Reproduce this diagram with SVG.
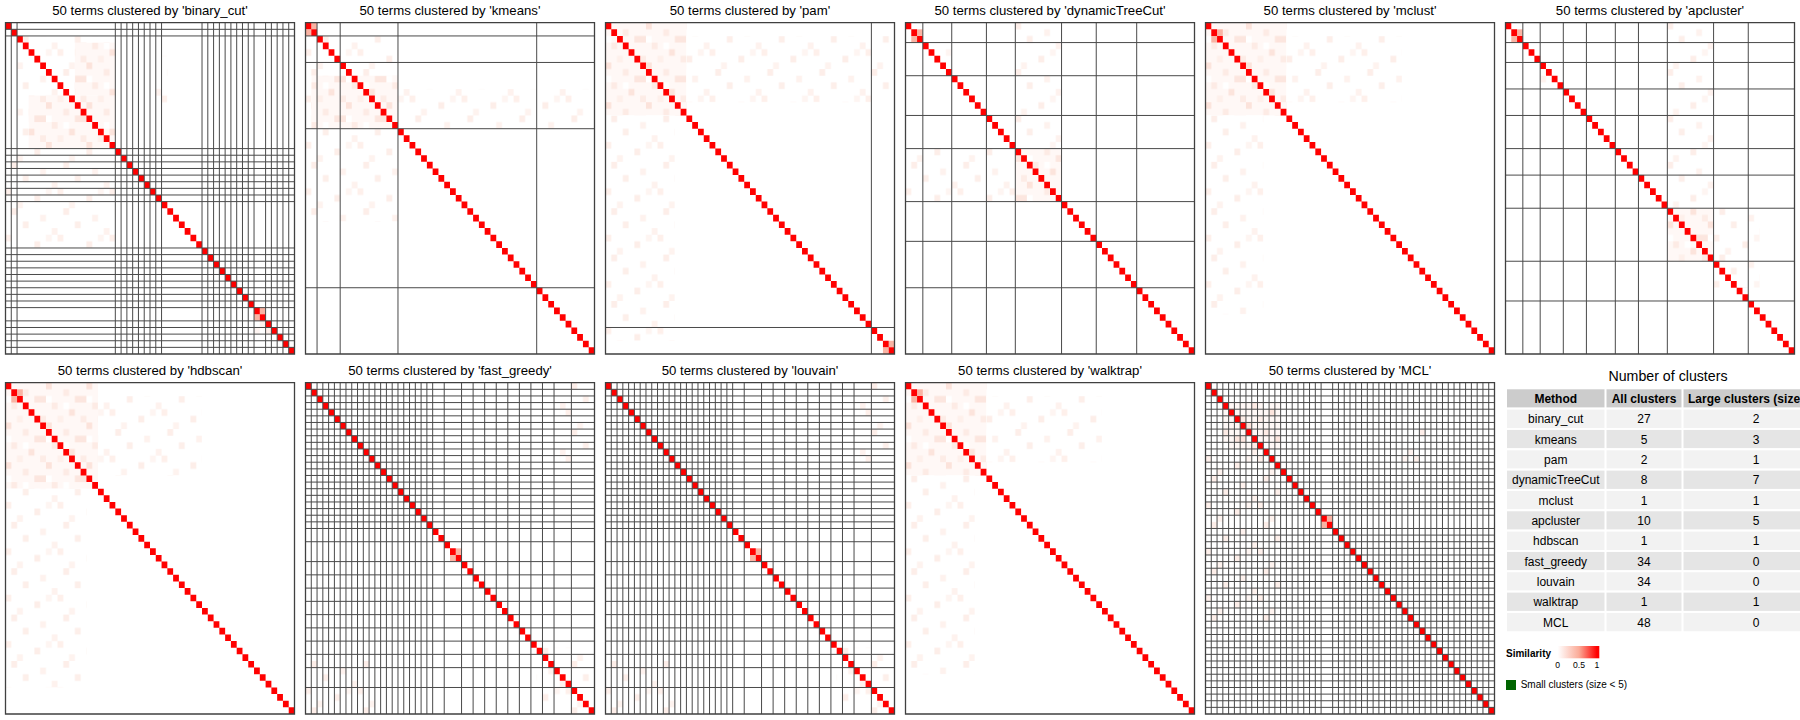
<svg xmlns="http://www.w3.org/2000/svg" xmlns:xlink="http://www.w3.org/1999/xlink" width="1800" height="720" viewBox="0 0 1800 720">
<style>
.t{font-family:"Liberation Sans",Arial,sans-serif;font-size:13.2px;text-anchor:middle;fill:#000}
.tb{font-family:"Liberation Sans",Arial,sans-serif;font-size:12px;text-anchor:middle;fill:#000}
.th{font-family:"Liberation Sans",Arial,sans-serif;font-size:12px;font-weight:bold;text-anchor:middle;fill:#000}
.dg{fill:#ff0000}
.ln{fill:none;stroke:#4a4a4a;stroke-width:1}
.bd{fill:none;stroke:#404040;stroke-width:1.3}
.pk{fill:#f9b3a3}
.f1{fill:url(#m1)}
.f2{fill:url(#m2)}
.hd{fill:#cccccc}
.ra{fill:#f2f2f2}
.rb{fill:#e5e5e5}
</style>
<defs>
<pattern id="m1" patternUnits="userSpaceOnUse" width="7" height="6">
<rect width="7" height="6" fill="#fff8f6"/>
<rect x="0" y="0" width="1" height="1" fill="#fce3db"/>
<rect x="3" y="1" width="1" height="1" fill="#fdebe5"/>
<rect x="5" y="2" width="2" height="1" fill="#fce6df"/>
<rect x="1" y="3" width="1" height="1" fill="#fdebe5"/>
<rect x="4" y="4" width="1" height="1" fill="#fce4dc"/>
<rect x="6" y="5" width="1" height="1" fill="#fdece6"/>
<rect x="2" y="5" width="1" height="1" fill="#fef0eb"/>
<rect x="0" y="2" width="1" height="1" fill="#ffffff"/>
<rect x="3" y="3" width="1" height="1" fill="#ffffff"/>
</pattern>
<pattern id="m2" patternUnits="userSpaceOnUse" width="9" height="7">
<rect width="9" height="7" fill="#ffffff"/>
<rect x="1" y="0" width="1" height="1" fill="#fdeee9"/>
<rect x="6" y="1" width="1" height="1" fill="#fef2ee"/>
<rect x="3" y="2" width="1" height="1" fill="#fdefea"/>
<rect x="8" y="3" width="1" height="1" fill="#fef2ee"/>
<rect x="0" y="4" width="1" height="1" fill="#fef0eb"/>
<rect x="5" y="5" width="1" height="1" fill="#fdeee9"/>
<rect x="2" y="6" width="1" height="1" fill="#fef3ef"/>
<rect x="7" y="4" width="1" height="1" fill="#fef5f2"/>
</pattern>
<path id="diag" class="dg" d="M0 0h1v1h-1z
m1 1h1v1h-1zm1 1h1v1h-1zm1 1h1v1h-1zm1 1h1v1h-1zm1 1h1v1h-1zm1 1h1v1h-1zm1 1h1v1h-1z
m1 1h1v1h-1zm1 1h1v1h-1zm1 1h1v1h-1zm1 1h1v1h-1zm1 1h1v1h-1zm1 1h1v1h-1zm1 1h1v1h-1z
m1 1h1v1h-1zm1 1h1v1h-1zm1 1h1v1h-1zm1 1h1v1h-1zm1 1h1v1h-1zm1 1h1v1h-1zm1 1h1v1h-1z
m1 1h1v1h-1zm1 1h1v1h-1zm1 1h1v1h-1zm1 1h1v1h-1zm1 1h1v1h-1zm1 1h1v1h-1zm1 1h1v1h-1z
m1 1h1v1h-1zm1 1h1v1h-1zm1 1h1v1h-1zm1 1h1v1h-1zm1 1h1v1h-1zm1 1h1v1h-1zm1 1h1v1h-1z
m1 1h1v1h-1zm1 1h1v1h-1zm1 1h1v1h-1zm1 1h1v1h-1zm1 1h1v1h-1zm1 1h1v1h-1zm1 1h1v1h-1z
m1 1h1v1h-1zm1 1h1v1h-1zm1 1h1v1h-1zm1 1h1v1h-1zm1 1h1v1h-1zm1 1h1v1h-1zm1 1h1v1h-1z"/>
<rect id="frame" class="bd" x="0" y="0" width="50" height="50" vector-effect="non-scaling-stroke"/>
<path id="fgl" class="ln" vector-effect="non-scaling-stroke" d="M1 0V50M0 1H50M2 0V50M0 2H50M3 0V50M0 3H50M4 0V50M0 4H50M5 0V50M0 5H50M6 0V50M0 6H50M7 0V50M0 7H50M8 0V50M0 8H50M9 0V50M0 9H50M10 0V50M0 10H50M11 0V50M0 11H50M12 0V50M0 12H50M13 0V50M0 13H50M14 0V50M0 14H50M15 0V50M0 15H50M16 0V50M0 16H50M17 0V50M0 17H50M18 0V50M0 18H50M19 0V50M0 19H50M20 0V50M0 20H50M21 0V50M0 21H50M22 0V50M0 22H50M24 0V50M0 24H50M27 0V50M0 27H50M29 0V50M0 29H50M31 0V50M0 31H50M33 0V50M0 33H50M35 0V50M0 35H50M37 0V50M0 37H50M39 0V50M0 39H50M41 0V50M0 41H50M43 0V50M0 43H50M46 0V50M0 46H50"/>
<linearGradient id="sim" gradientUnits="userSpaceOnUse" x1="1552.3" y1="0" x2="1599.3" y2="0">
<stop offset="0" stop-color="#ffffff"/>
<stop offset="0.115" stop-color="#ffffff"/>
<stop offset="0.568" stop-color="#fbab98"/>
<stop offset="0.95" stop-color="#ff0000"/>
<stop offset="1" stop-color="#ff0000"/>
</linearGradient>
</defs>
<rect x="0" y="0" width="1800" height="720" fill="#ffffff"/>

<g id="p-binary_cut">
<text class="t" x="150" y="15.3">50 terms clustered by 'binary_cut'</text>
<g transform="translate(5.5,22.7) scale(5.78,6.626)">
<rect class="f2" x="2" y="2" width="17" height="17"/>
<rect class="f1" x="4" y="11" width="15" height="8"/>
<rect class="f1" x="12" y="3" width="7" height="8"/>
<rect class="f2" x="0" y="19" width="19" height="15"/>
<rect class="f2" x="26" y="5" width="2" height="8"/>
<rect class="f2" x="43" y="45" width="3" height="5"/>
<rect class="pk" x="44" y="43" width="1" height="1"/>
<rect class="pk" x="43" y="44" width="1" height="1"/>
<use href="#diag"/>
<path class="ln" vector-effect="non-scaling-stroke" d="M1 0V50M0 1H50M2 0V50M0 2H50M19 0V50M0 19H50M20 0V50M0 20H50M21 0V50M0 21H50M22 0V50M0 22H50M23 0V50M0 23H50M24 0V50M0 24H50M25 0V50M0 25H50M26 0V50M0 26H50M27 0V50M0 27H50M34 0V50M0 34H50M35 0V50M0 35H50M36 0V50M0 36H50M37 0V50M0 37H50M38 0V50M0 38H50M39 0V50M0 39H50M40 0V50M0 40H50M41 0V50M0 41H50M42 0V50M0 42H50M43 0V50M0 43H50M45 0V50M0 45H50M46 0V50M0 46H50M47 0V50M0 47H50M48 0V50M0 48H50M49 0V50M0 49H50"/>
<use href="#frame"/>
</g>
</g>

<g id="p-kmeans">
<text class="t" x="450" y="15.3">50 terms clustered by 'kmeans'</text>
<g transform="translate(305.5,22.7) scale(5.78,6.626)">
<rect class="f2" x="0" y="2" width="16" height="14"/>
<rect class="f1" x="1" y="8" width="15" height="8"/>
<rect class="f2" x="16" y="10" width="34" height="6"/>
<rect class="f2" x="0" y="16" width="16" height="14"/>
<rect class="pk" x="1" y="0" width="1" height="1"/>
<rect class="pk" x="0" y="1" width="1" height="1"/>
<use href="#diag"/>
<path class="ln" vector-effect="non-scaling-stroke" d="M2 0V50M0 2H50M6 0V50M0 6H50M16 0V50M0 16H50M40 0V50M0 40H50"/>
<use href="#frame"/>
</g>
</g>

<g id="p-pam">
<text class="t" x="750" y="15.3">50 terms clustered by 'pam'</text>
<g transform="translate(605.5,22.7) scale(5.78,6.626)">
<rect class="f1" x="0" y="0" width="14" height="14"/>
<rect class="f2" x="0" y="14" width="12" height="34"/>
<rect class="f2" x="14" y="2" width="36" height="10"/>
<rect class="pk" x="49" y="48" width="1" height="1"/>
<rect class="pk" x="48" y="49" width="1" height="1"/>
<use href="#diag"/>
<path class="ln" vector-effect="non-scaling-stroke" d="M46 0V50M0 46H50"/>
<use href="#frame"/>
</g>
</g>

<g id="p-dynamicTreeCut">
<text class="t" x="1050" y="15.3">50 terms clustered by 'dynamicTreeCut'</text>
<g transform="translate(905.5,22.7) scale(5.78,6.626)">
<rect class="f2" x="19" y="0" width="8" height="19"/>
<rect class="f1" x="19" y="19" width="8" height="8"/>
<rect class="f2" x="0" y="19" width="19" height="8"/>
<rect class="f2" x="3" y="3" width="5" height="5"/>
<rect class="pk" x="2" y="1" width="1" height="1"/>
<rect class="pk" x="1" y="2" width="1" height="1"/>
<use href="#diag"/>
<path class="ln" vector-effect="non-scaling-stroke" d="M3 0V50M0 3H50M8 0V50M0 8H50M14 0V50M0 14H50M19 0V50M0 19H50M27 0V50M0 27H50M33 0V50M0 33H50M40 0V50M0 40H50"/>
<use href="#frame"/>
</g>
</g>

<g id="p-mclust">
<text class="t" x="1350" y="15.3">50 terms clustered by 'mclust'</text>
<g transform="translate(1205.5,22.7) scale(5.78,6.626)">
<rect class="f1" x="0" y="0" width="14" height="14"/>
<rect class="f2" x="14" y="2" width="20" height="10"/>
<rect class="f2" x="0" y="14" width="10" height="30"/>
<rect class="pk" x="2" y="1" width="1" height="1"/>
<rect class="pk" x="1" y="2" width="1" height="1"/>
<use href="#diag"/>
<use href="#frame"/>
</g>
</g>

<g id="p-apcluster">
<text class="t" x="1650" y="15.3">50 terms clustered by 'apcluster'</text>
<g transform="translate(1505.5,22.7) scale(5.78,6.626)">
<rect class="f2" x="6" y="6" width="4" height="4"/>
<rect class="f2" x="28" y="0" width="8" height="28"/>
<rect class="f1" x="28" y="28" width="8" height="8"/>
<rect class="f2" x="36" y="28" width="8" height="12"/>
<rect class="pk" x="2" y="1" width="1" height="1"/>
<rect class="pk" x="1" y="2" width="1" height="1"/>
<use href="#diag"/>
<path class="ln" vector-effect="non-scaling-stroke" d="M3 0V50M0 3H50M6 0V50M0 6H50M10 0V50M0 10H50M14 0V50M0 14H50M19 0V50M0 19H50M23 0V50M0 23H50M28 0V50M0 28H50M36 0V50M0 36H50M42 0V50M0 42H50"/>
<use href="#frame"/>
</g>
</g>

<g id="p-hdbscan">
<text class="t" x="150" y="375.2">50 terms clustered by 'hdbscan'</text>
<g transform="translate(5.5,382.7) scale(5.78,6.626)">
<rect class="f1" x="0" y="0" width="16" height="16"/>
<rect class="f2" x="16" y="2" width="18" height="12"/>
<rect class="f2" x="0" y="16" width="14" height="30"/>
<rect class="pk" x="2" y="1" width="1" height="1"/>
<rect class="pk" x="1" y="2" width="1" height="1"/>
<use href="#diag"/>
<use href="#frame"/>
</g>
</g>

<g id="p-fast_greedy">
<text class="t" x="450" y="375.2">50 terms clustered by 'fast_greedy'</text>
<g transform="translate(305.5,382.7) scale(5.78,6.626)">
<rect class="f2" x="44" y="0" width="6" height="12"/>
<rect class="f2" x="40" y="40" width="10" height="10"/>
<rect class="f2" x="0" y="42" width="12" height="8"/>
<rect class="pk" x="26" y="25" width="1" height="1"/>
<rect class="pk" x="25" y="26" width="1" height="1"/>
<use href="#diag"/>
<use href="#fgl"/>
<use href="#frame"/>
</g>
</g>

<g id="p-louvain">
<text class="t" x="750" y="375.2">50 terms clustered by 'louvain'</text>
<g transform="translate(605.5,382.7) scale(5.78,6.626)">
<rect class="f2" x="44" y="0" width="6" height="12"/>
<rect class="f2" x="40" y="40" width="10" height="10"/>
<rect class="f2" x="0" y="42" width="12" height="8"/>
<rect class="pk" x="26" y="25" width="1" height="1"/>
<rect class="pk" x="25" y="26" width="1" height="1"/>
<use href="#diag"/>
<use href="#fgl"/>
<use href="#frame"/>
</g>
</g>

<g id="p-walktrap">
<text class="t" x="1050" y="375.2">50 terms clustered by 'walktrap'</text>
<g transform="translate(905.5,382.7) scale(5.78,6.626)">
<rect class="f1" x="0" y="0" width="14" height="14"/>
<rect class="f2" x="14" y="2" width="20" height="10"/>
<rect class="f2" x="0" y="14" width="12" height="30"/>
<rect class="pk" x="2" y="1" width="1" height="1"/>
<rect class="pk" x="1" y="2" width="1" height="1"/>
<use href="#diag"/>
<use href="#frame"/>
</g>
</g>

<g id="p-MCL">
<text class="t" x="1350" y="375.2">50 terms clustered by 'MCL'</text>
<g transform="translate(1205.5,382.7) scale(5.78,6.626)">
<rect class="f1" x="3" y="3" width="10" height="10"/>
<rect class="f2" x="0" y="10" width="14" height="26"/>
<rect class="f2" x="34" y="5" width="4" height="7"/>
<rect class="pk" x="21" y="20" width="1" height="1"/>
<rect class="pk" x="20" y="21" width="1" height="1"/>
<use href="#diag"/>
<path class="ln" vector-effect="non-scaling-stroke" d="M1 0V50M0 1H50M2 0V50M0 2H50M3 0V50M0 3H50M4 0V50M0 4H50M5 0V50M0 5H50M6 0V50M0 6H50M7 0V50M0 7H50M8 0V50M0 8H50M9 0V50M0 9H50M10 0V50M0 10H50M11 0V50M0 11H50M12 0V50M0 12H50M13 0V50M0 13H50M14 0V50M0 14H50M15 0V50M0 15H50M16 0V50M0 16H50M17 0V50M0 17H50M18 0V50M0 18H50M19 0V50M0 19H50M20 0V50M0 20H50M22 0V50M0 22H50M23 0V50M0 23H50M24 0V50M0 24H50M25 0V50M0 25H50M26 0V50M0 26H50M27 0V50M0 27H50M28 0V50M0 28H50M29 0V50M0 29H50M30 0V50M0 30H50M31 0V50M0 31H50M32 0V50M0 32H50M33 0V50M0 33H50M34 0V50M0 34H50M35 0V50M0 35H50M36 0V50M0 36H50M37 0V50M0 37H50M38 0V50M0 38H50M39 0V50M0 39H50M40 0V50M0 40H50M41 0V50M0 41H50M42 0V50M0 42H50M43 0V50M0 43H50M44 0V50M0 44H50M45 0V50M0 45H50M46 0V50M0 46H50M47 0V50M0 47H50M48 0V50M0 48H50M49 0V50M0 49H50"/>
<use href="#frame"/>
</g>
</g>

<g id="table">
<text x="1668" y="380.7" style="font-family:'Liberation Sans',Arial,sans-serif;font-size:14.2px;text-anchor:middle;fill:#000">Number of clusters</text>
<g stroke="#ffffff" stroke-width="2">
<rect class="hd" x="1506" y="388.3" width="330" height="20.33"/>
<rect class="ra" x="1506" y="408.63" width="330" height="20.33"/>
<rect class="rb" x="1506" y="428.96" width="330" height="20.33"/>
<rect class="ra" x="1506" y="449.29" width="330" height="20.33"/>
<rect class="rb" x="1506" y="469.62" width="330" height="20.33"/>
<rect class="ra" x="1506" y="489.95" width="330" height="20.33"/>
<rect class="rb" x="1506" y="510.28" width="330" height="20.33"/>
<rect class="ra" x="1506" y="530.61" width="330" height="20.33"/>
<rect class="rb" x="1506" y="550.94" width="330" height="20.33"/>
<rect class="ra" x="1506" y="571.27" width="330" height="20.33"/>
<rect class="rb" x="1506" y="591.6" width="330" height="20.33"/>
<rect class="ra" x="1506" y="611.93" width="330" height="20.33"/>
<path d="M1605.5 388.3V632.26M1682.5 388.3V632.26"/>
</g>
<text class="th" x="1555.75" y="402.9">Method</text>
<text class="th" x="1644" y="402.9">All clusters</text>
<text class="th" x="1688" y="402.9" style="text-anchor:start">Large clusters (size</text>
<text class="tb" x="1555.75" y="423.23">binary_cut</text><text class="tb" x="1644" y="423.23">27</text><text class="tb" x="1756" y="423.23">2</text>
<text class="tb" x="1555.75" y="443.56">kmeans</text><text class="tb" x="1644" y="443.56">5</text><text class="tb" x="1756" y="443.56">3</text>
<text class="tb" x="1555.75" y="463.89">pam</text><text class="tb" x="1644" y="463.89">2</text><text class="tb" x="1756" y="463.89">1</text>
<text class="tb" x="1555.75" y="484.22">dynamicTreeCut</text><text class="tb" x="1644" y="484.22">8</text><text class="tb" x="1756" y="484.22">7</text>
<text class="tb" x="1555.75" y="504.55">mclust</text><text class="tb" x="1644" y="504.55">1</text><text class="tb" x="1756" y="504.55">1</text>
<text class="tb" x="1555.75" y="524.88">apcluster</text><text class="tb" x="1644" y="524.88">10</text><text class="tb" x="1756" y="524.88">5</text>
<text class="tb" x="1555.75" y="545.21">hdbscan</text><text class="tb" x="1644" y="545.21">1</text><text class="tb" x="1756" y="545.21">1</text>
<text class="tb" x="1555.75" y="565.54">fast_greedy</text><text class="tb" x="1644" y="565.54">34</text><text class="tb" x="1756" y="565.54">0</text>
<text class="tb" x="1555.75" y="585.87">louvain</text><text class="tb" x="1644" y="585.87">34</text><text class="tb" x="1756" y="585.87">0</text>
<text class="tb" x="1555.75" y="606.2">walktrap</text><text class="tb" x="1644" y="606.2">1</text><text class="tb" x="1756" y="606.2">1</text>
<text class="tb" x="1555.75" y="626.53">MCL</text><text class="tb" x="1644" y="626.53">48</text><text class="tb" x="1756" y="626.53">0</text>
</g>

<g id="legend">
<text x="1506" y="656.5" style="font-family:'Liberation Sans',Arial,sans-serif;font-size:10px;font-weight:bold;fill:#000">Similarity</text>
<rect x="1552.3" y="646" width="47" height="12.3" fill="url(#sim)"/>
<g style="font-family:'Liberation Sans',Arial,sans-serif;font-size:8.6px;text-anchor:middle;fill:#000">
<text x="1557.7" y="668">0</text>
<text x="1579" y="668">0.5</text>
<text x="1597" y="668">1</text>
</g>
<rect x="1506" y="680" width="10" height="10" fill="#006400"/>
<text x="1520.7" y="688.4" style="font-family:'Liberation Sans',Arial,sans-serif;font-size:10px;fill:#000">Small clusters (size &lt; 5)</text>
</g>
</svg>
